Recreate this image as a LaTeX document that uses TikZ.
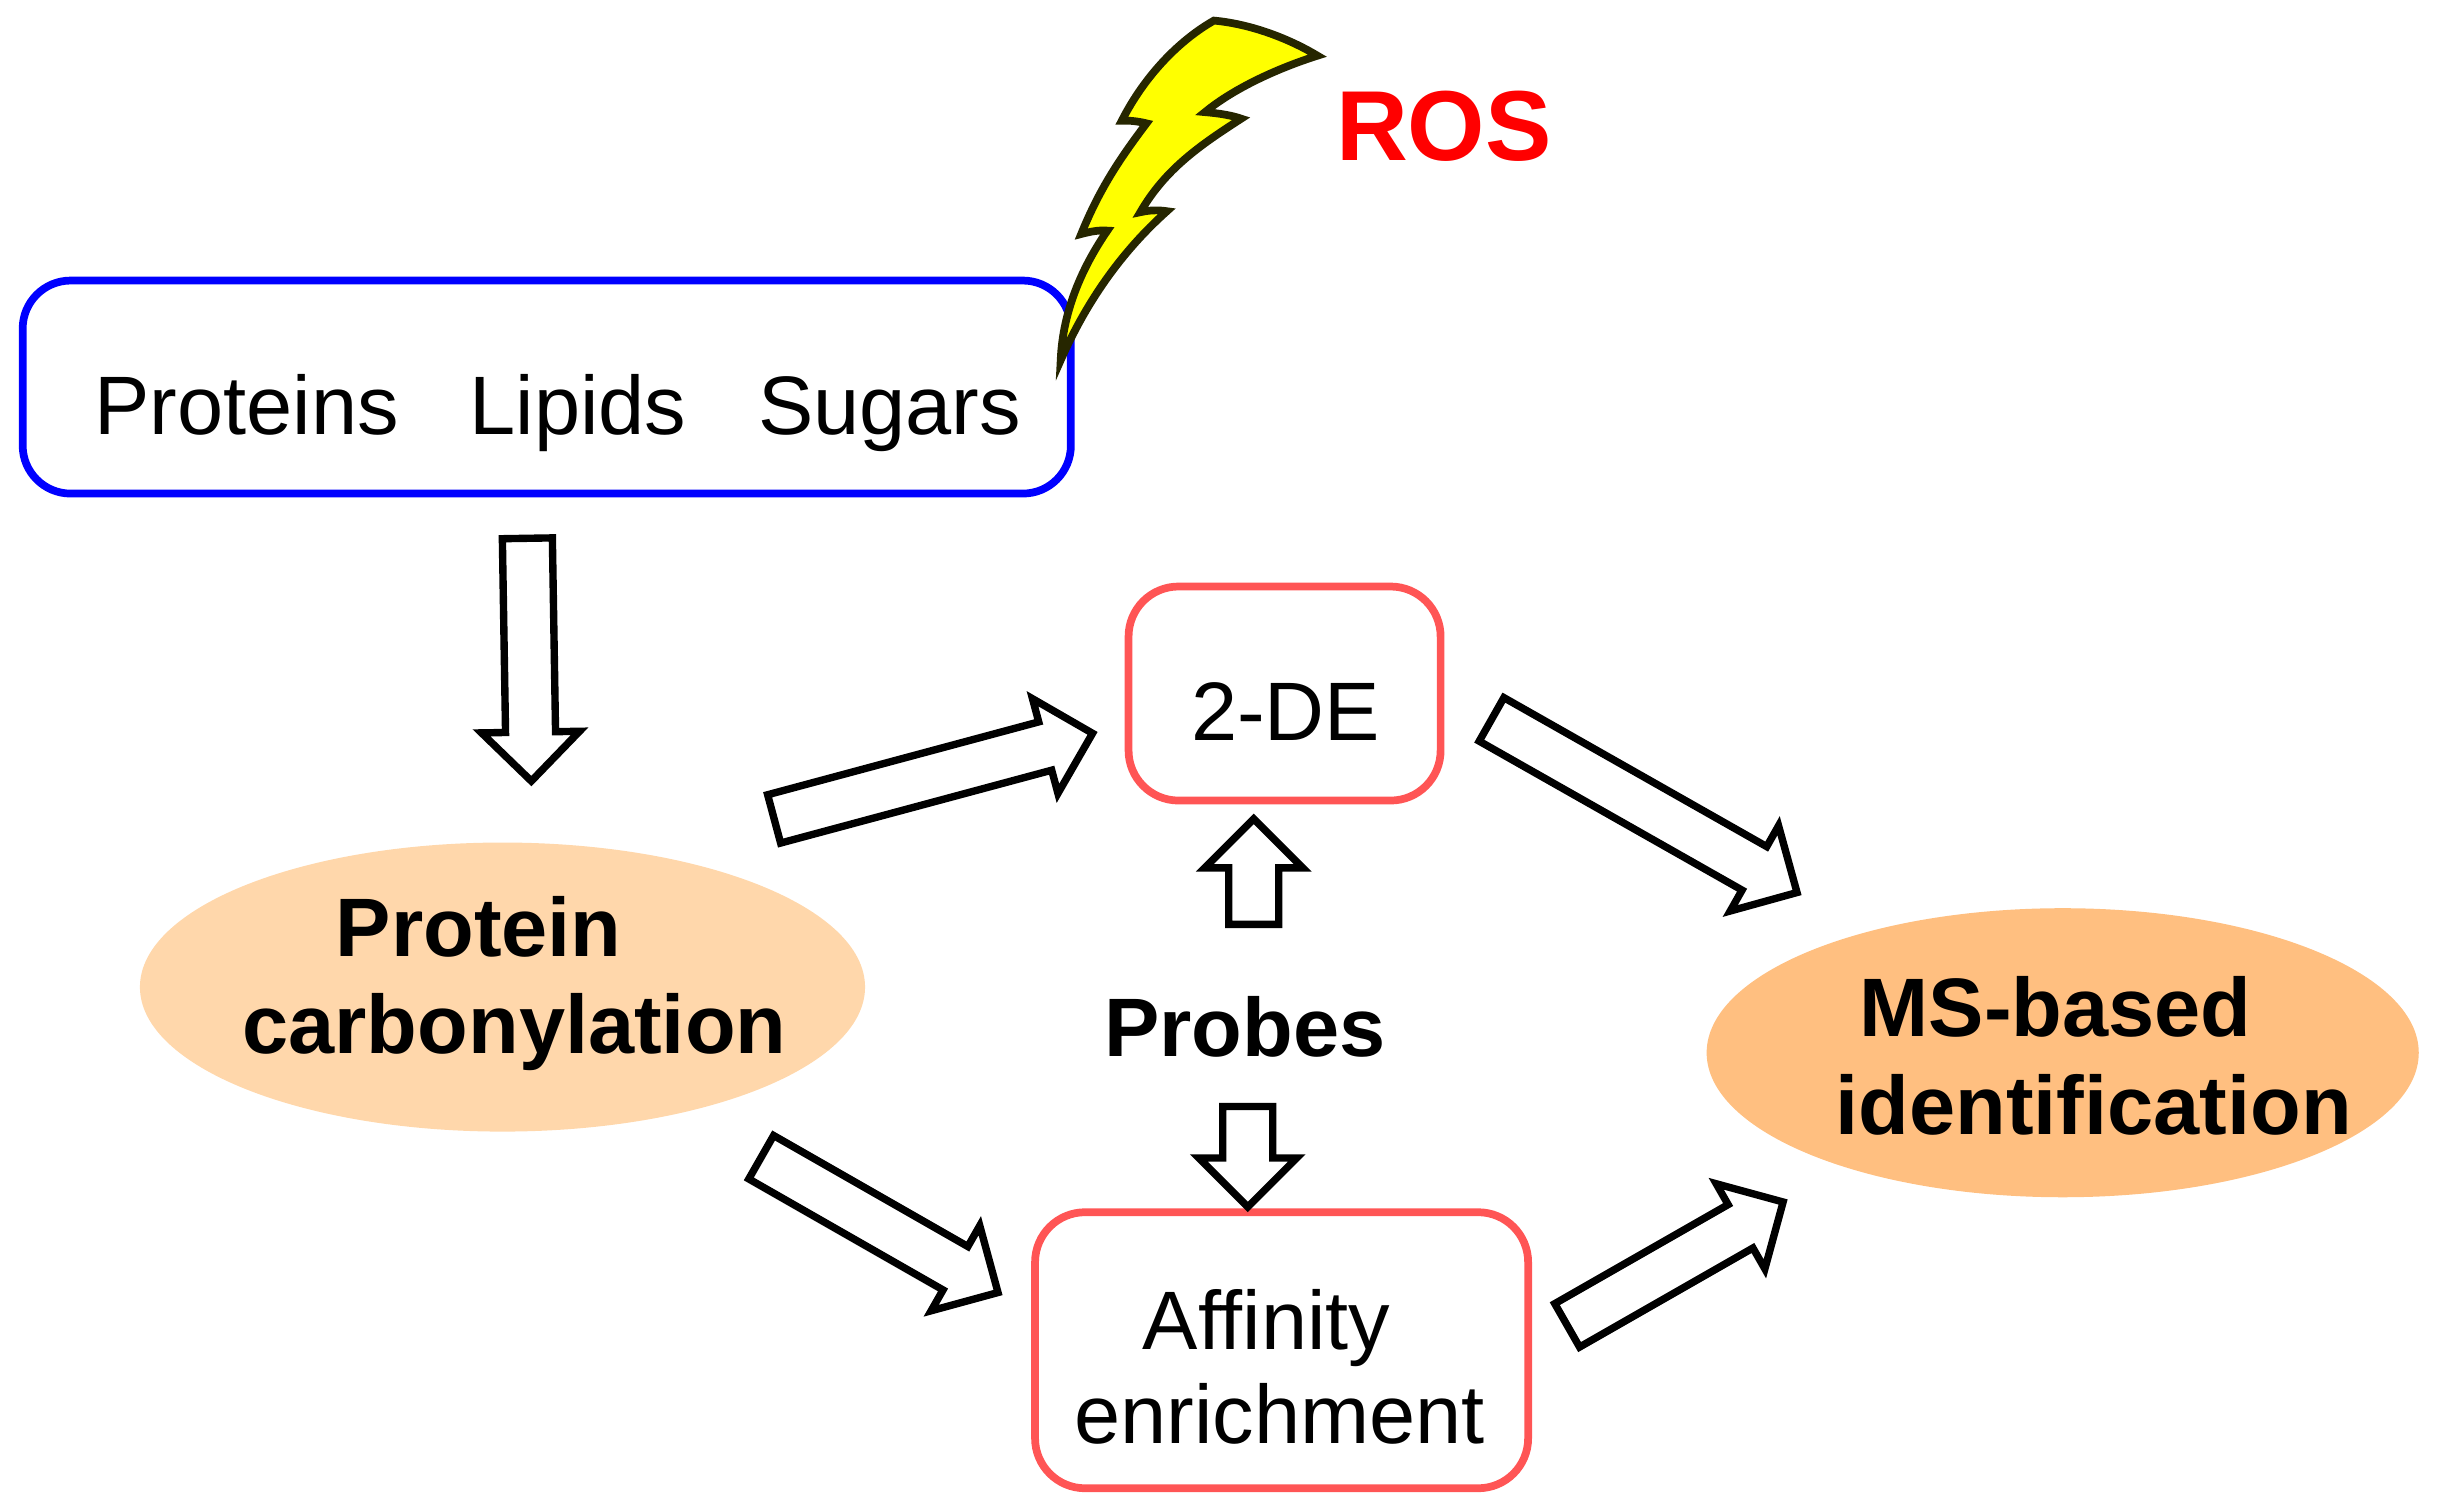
\documentclass[tikz,border=0pt]{standalone}
\usepackage{fontspec}
\setmainfont{Liberation Sans}
\usepackage{tikz}
\usetikzlibrary{calc}
\usetikzlibrary{shapes}
\definecolor{paleorange}{HTML}{FFD7AB}
\definecolor{midorange}{HTML}{FFBF80}
\definecolor{boxred}{HTML}{FF5555}
\definecolor{boltedge}{HTML}{262600}
\definecolor{boltfill}{HTML}{FFFF00}
\tikzstyle{bluebox} = [draw=blue, line width=2.2pt, rectangle, rounded corners=0.48cm,
    minimum width=10.48cm, minimum height=2.13cm]
\tikzstyle{redbox} = [draw=boxred, line width=2.2pt, rectangle, rounded corners=0.5cm, inner sep=0pt]
\tikzstyle{oval} = [ellipse, inner sep=0pt, minimum height=2.89cm]
\tikzstyle{plain} = [anchor=base, inner sep=0pt, font=\fontsize{23.6pt}{28pt}\selectfont]
\tikzstyle{heavy} = [anchor=base, inner sep=0pt, font=\fontsize{23.6pt}{28pt}\selectfont\bfseries]
\tikzstyle{hollow} = [draw, fill=white, line width=2.1pt, miter limit=10]
% shaft and head of a hollow arrow, from a tail coordinate to a tip coordinate
\newcommand{\blockarrow}[2]{
    \coordinate (hb) at ($(#2)!0.49cm!(#1)$);
    \draw [hollow] ($(#1)!0.25cm!90:(#2)$) -- ($(hb)!0.25cm!90:(#2)$) -- ($(hb)!0.49cm!90:(#2)$)
        -- (#2) -- ($(hb)!0.49cm!-90:(#2)$) -- ($(hb)!0.25cm!-90:(#2)$) -- ($(#1)!0.25cm!-90:(#2)$) -- cycle;
}
\begin{document}
\begin{tikzpicture}[x=0.00995cm,y=-0.00995cm]
    \useasboundingbox (0,0) rectangle (2449.2,1516.6);
    % We start by placing the blocks
    \node [bluebox] (molecules) at (549.5,389) {};
    \node [plain] (proteins) at (248,437) {Proteins};
    \node [plain] (lipids) at (581,437) {Lipids};
    \node [plain] (sugars) at (894,437) {Sugars};

    \node [oval, fill=paleorange, minimum width=7.25cm] (carbonylation) at (505,992) {};
    \node [heavy] (carbline1) at (481,961) {Protein};
    \node [heavy] (carbline2) at (517,1059) {carbonylation};

    \node [oval, fill=midorange, minimum width=7.12cm] (identification) at (2073,1058) {};
    \node [heavy] (msline1) at (2066,1042) {MS-based};
    \node [heavy] (msline2) at (2104,1140) {identification};

    \node [redbox, minimum width=3.12cm, minimum height=2.14cm] (gel) at (1291,697) {};
    \node [plain] (gellabel) at (1292,744) {2-DE};
    \node [redbox, minimum width=4.93cm, minimum height=2.76cm] (affinity) at (1288,1357) {};
    \node [plain] (affline1) at (1273,1356) {Affinity};
    \node [plain] (affline2) at (1286,1451) {enrichment};

    \node [heavy] (probes) at (1251,1062) {Probes};
    \node [anchor=base, inner sep=0pt, text=red, font=\fontsize{28.3pt}{32pt}\selectfont\bfseries] (ros) at (1451,161) {ROS};

    % The lightning bolt
    \draw [fill=boltfill, draw=boltedge, line width=2.2pt, miter limit=10] (1220,20.7)
        .. controls (1256,24) and (1294,38) .. (1324,56)
        .. controls (1286,68) and (1241,88) .. (1211,112.7)
        .. controls (1226,114) and (1238,116) .. (1247.4,119.3)
        .. controls (1206,146) and (1171,170) .. (1146,213.3)
        .. controls (1156,211) and (1164,211) .. (1172.7,212.3)
        .. controls (1126,254) and (1091,305) .. (1066,362)
        .. controls (1068,310) and (1090,265) .. (1112.9,231.8)
        .. controls (1104,231) and (1095,233) .. (1086.6,235.2)
        .. controls (1105,190) and (1125,160) .. (1152.2,124)
        .. controls (1144,122) and (1136,121) .. (1127.4,121.3)
        .. controls (1151,75) and (1186,40) .. (1220,20.7) -- cycle;

    % Free ends of the arrows
    \coordinate (boxtail) at (530,541);
    \coordinate (carbtip) at (534,785);
    \coordinate (carbtail) at (778,823);
    \coordinate (geltip) at (1098,737);
    \coordinate (geltail) at (1499,723);
    \coordinate (mstip) at (1806,897);
    \coordinate (lowtail) at (765,1163);
    \coordinate (afftip) at (1003,1299);
    \coordinate (afftail) at (1575,1332);
    \coordinate (msfoot) at (1792,1208);
    \coordinate (upstart) at (1260,929);
    \coordinate (uptip) at (1260,823);
    \coordinate (downstart) at (1254,1112);
    \coordinate (downtip) at (1254,1213);

    % Once the nodes are placed, connecting them is easy.
    \blockarrow{boxtail}{carbtip}
    \blockarrow{carbtail}{geltip}
    \blockarrow{geltail}{mstip}
    \blockarrow{lowtail}{afftip}
    \blockarrow{afftail}{msfoot}
    \blockarrow{upstart}{uptip}
    \blockarrow{downstart}{downtip}
\end{tikzpicture}
\end{document}
